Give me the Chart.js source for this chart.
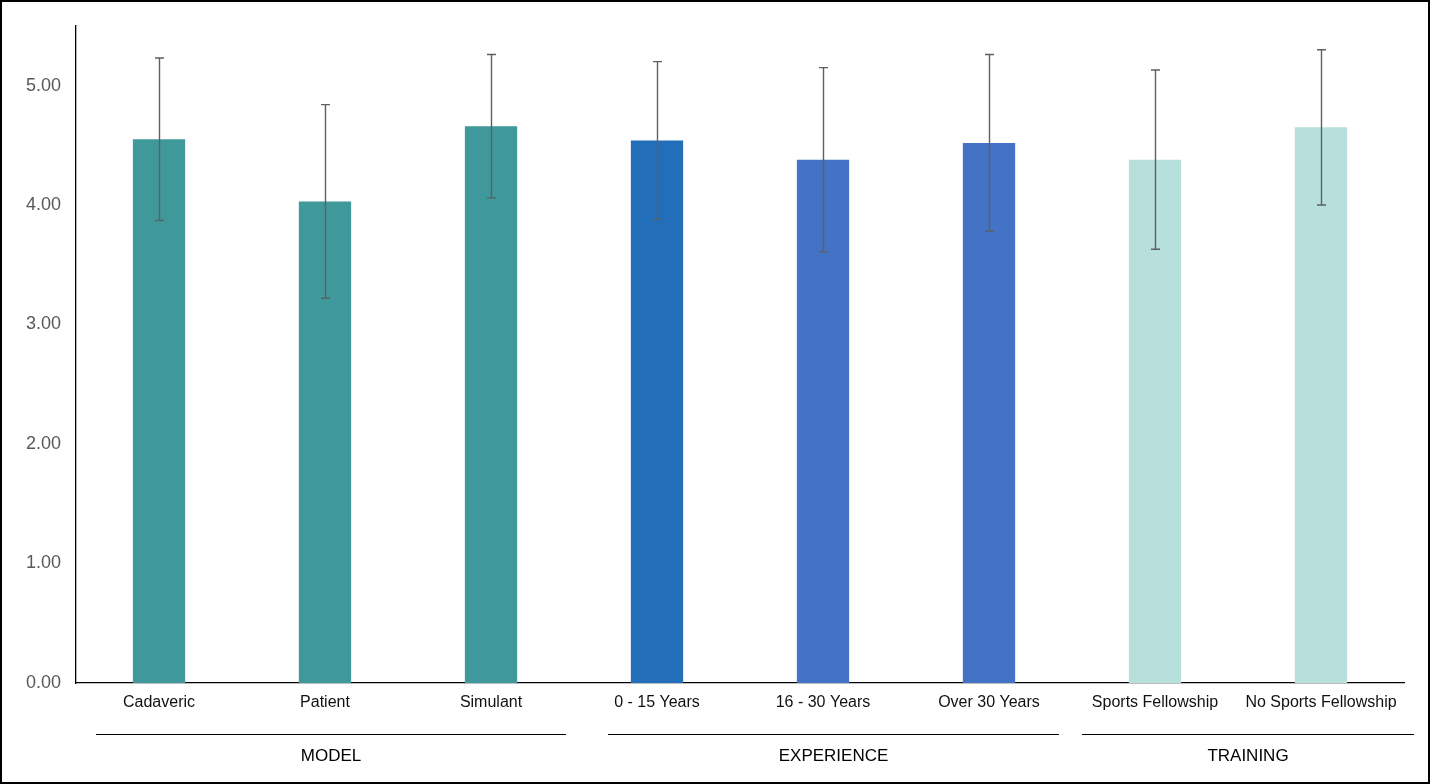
<!DOCTYPE html>
<html>
<head>
<meta charset="utf-8">
<script src="https://cdn.jsdelivr.net/npm/chart.js@4.4.1/dist/chart.umd.min.js"></script>
<style>
  html, body { margin: 0; padding: 0; background: #fff; }
  #wrap { width: 1430px; height: 784px; position: relative; }
</style>
</head>
<body>
<div id="wrap"><canvas id="c" width="1430" height="784"></canvas></div>
<script>
const categories = ["Cadaveric", "Patient", "Simulant", "0 - 15 Years", "16 - 30 Years", "Over 30 Years", "Sports Fellowship", "No Sports Fellowship"];
const means = [4.55, 4.03, 4.66, 4.54, 4.38, 4.52, 4.38, 4.65];
const errUp = [0.68, 0.81, 0.60, 0.66, 0.77, 0.74, 0.75, 0.65];
const errDown = [0.68, 0.81, 0.60, 0.66, 0.77, 0.74, 0.75, 0.65];
const groupNames = ["MODEL", "EXPERIENCE", "TRAINING"];
const groupFirst = [0, 3, 6];
const groupLast = [2, 5, 7];
const yTicks = [0, 1, 2, 3, 4, 5];

const barColors = ["#3F999B", "#3F999B", "#3F999B", "#226EB8", "#4472C4", "#4472C4", "#B7E0DD", "#B7E0DD"];
// group line start/end offsets (px) relative to category band edges
const groupLineOffsets = [[20, -8], [34, -13], [10, 10]];

const errorBars = {
  id: 'errorBars',
  afterDatasetsDraw(chart) {
    const ctx = chart.ctx;
    const y = chart.scales.y;
    const meta = chart.getDatasetMeta(0);
    ctx.save();
    ctx.strokeStyle = '#5f5f5f';
    ctx.lineWidth = 1.4;
    meta.data.forEach((bar, i) => {
      const x = Math.round(bar.x) + 0.5;
      const yt = y.getPixelForValue(means[i] + errUp[i]);
      const yb = y.getPixelForValue(means[i] - errDown[i]);
      ctx.beginPath();
      ctx.moveTo(x, yt); ctx.lineTo(x, yb);
      ctx.moveTo(x - 4.5, yt); ctx.lineTo(x + 4.5, yt);
      ctx.moveTo(x - 4.5, yb); ctx.lineTo(x + 4.5, yb);
      ctx.stroke();
    });
    ctx.restore();
  }
};

const groupsAndFrame = {
  id: 'groupsAndFrame',
  afterDraw(chart) {
    const ctx = chart.ctx;
    const xs = chart.scales.x;
    const area = chart.chartArea;
    const band = (area.right - area.left) / categories.length;
    ctx.save();
    groupNames.forEach((name, g) => {
      const x0 = xs.getPixelForValue(groupFirst[g]) - band / 2 + groupLineOffsets[g][0];
      const x1 = xs.getPixelForValue(groupLast[g]) + band / 2 + groupLineOffsets[g][1];
      const ly = area.bottom + 51.5;
      ctx.strokeStyle = '#000';
      ctx.lineWidth = 1;
      ctx.beginPath();
      ctx.moveTo(x0, ly); ctx.lineTo(x1, ly);
      ctx.stroke();
      ctx.fillStyle = '#000';
      ctx.font = '17px "Liberation Sans", Arial, sans-serif';
      ctx.textAlign = 'center';
      ctx.textBaseline = 'middle';
      ctx.fillText(name, (x0 + x1) / 2, area.bottom + 73);
    });
    // outer frame
    ctx.strokeStyle = '#000';
    ctx.lineWidth = 2;
    ctx.strokeRect(1, 1, chart.width - 2, chart.height - 2);
    ctx.restore();
  }
};

new Chart(document.getElementById('c'), {
  type: 'bar',
  data: {
    labels: categories,
    datasets: [{
      data: means,
      backgroundColor: barColors,
      borderWidth: 0,
      barPercentage: 0.315,
      categoryPercentage: 1.0
    }]
  },
  options: {
    responsive: false,
    animation: false,
    devicePixelRatio: 1,
    layout: { padding: { top: 25, right: 26, left: 0, bottom: 0 } },
    plugins: { legend: { display: false }, tooltip: { enabled: false } },
    scales: {
      x: {
        grid: { display: false, drawTicks: false },
        border: { display: true, color: '#000', width: 1.3 },
        ticks: {
          color: '#111',
          padding: 10,
          maxRotation: 0,
          autoSkip: false,
          font: { family: '"Liberation Sans", Arial, sans-serif', size: 16 }
        },
        afterFit(scale) { scale.height = 101; }
      },
      y: {
        min: 0,
        max: 5.5,
        grid: { display: false, drawTicks: false },
        border: { display: true, color: '#000', width: 1.3 },
        afterBuildTicks(scale) { scale.ticks = yTicks.map(v => ({ value: v })); },
        ticks: {
          color: '#595959',
          padding: 15,
          font: { family: '"Liberation Sans", Arial, sans-serif', size: 18 },
          callback: v => Number(v).toFixed(2)
        },
        afterFit(scale) { scale.width = 76; }
      }
    }
  },
  plugins: [errorBars, groupsAndFrame]
});
</script>
</body>
</html>
